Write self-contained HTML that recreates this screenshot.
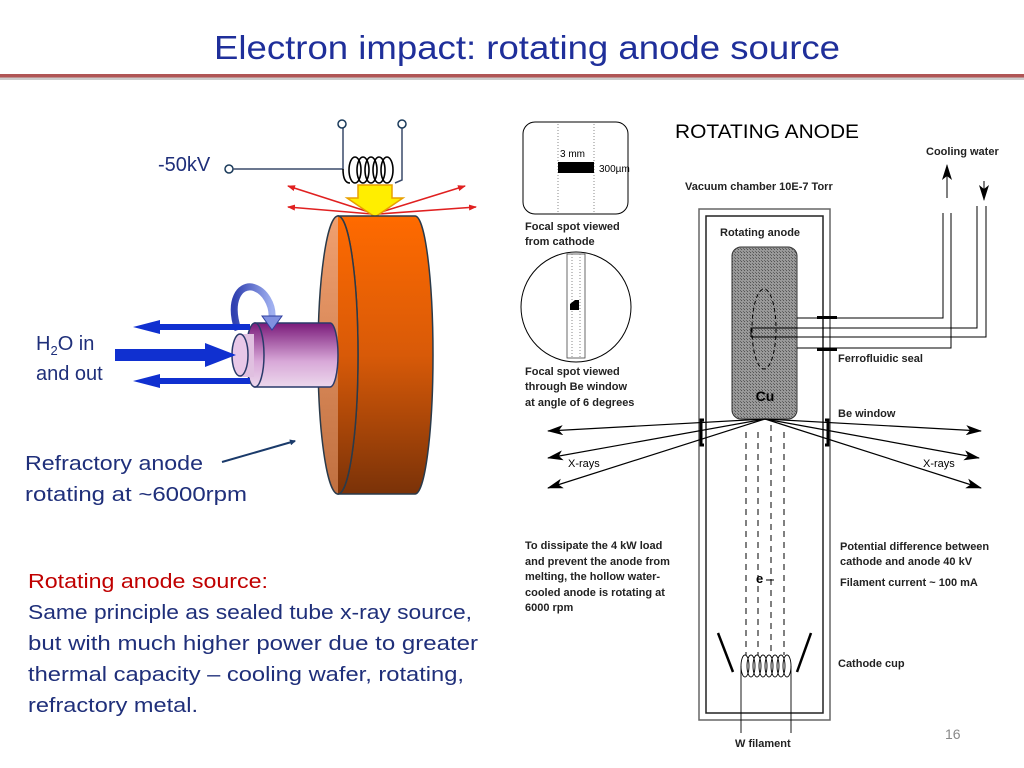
<!DOCTYPE html>
<html><head><meta charset="utf-8"><style>
html,body{margin:0;padding:0;background:#fff;}
svg{display:block;}
</style></head><body>
<svg width="1024" height="768" viewBox="0 0 1024 768" xmlns="http://www.w3.org/2000/svg" font-family="Liberation Sans, sans-serif">
<defs>
<linearGradient id="org" x1="0" y1="0" x2="0" y2="1"><stop offset="0" stop-color="#ff6a00"/><stop offset="0.5" stop-color="#d85a08"/><stop offset="1" stop-color="#7a3208"/></linearGradient>
<linearGradient id="face" x1="0" y1="0" x2="0" y2="1"><stop offset="0" stop-color="#f0a070"/><stop offset="1" stop-color="#c07040"/></linearGradient>
<linearGradient id="pur" x1="0" y1="0" x2="0" y2="1"><stop offset="0" stop-color="#7a1a7a"/><stop offset="0.6" stop-color="#d8a8d8"/><stop offset="1" stop-color="#ecd8ec"/></linearGradient>
<linearGradient id="rot" x1="0" y1="0" x2="1" y2="0"><stop offset="0" stop-color="#3040b0"/><stop offset="1" stop-color="#a0b0f0"/></linearGradient>
<marker id="ra" markerWidth="8" markerHeight="6" refX="7" refY="3" orient="auto" markerUnits="userSpaceOnUse"><path d="M0,0 L8,3 L0,6 z" fill="#e02020"/></marker>
<marker id="ka" markerWidth="16" markerHeight="10" refX="15" refY="5" orient="auto" markerUnits="userSpaceOnUse"><path d="M0,0 L16,5 L0,10 L4,5 z" fill="#000"/></marker>
<marker id="ba" markerWidth="6" markerHeight="6" refX="5" refY="3" orient="auto" markerUnits="userSpaceOnUse"><path d="M0,0 L6,3 L0,6 z" fill="#1a3a6a"/></marker>
<pattern id="hatch" width="3" height="3" patternUnits="userSpaceOnUse"><rect width="3" height="3" fill="#999"/><rect width="1" height="1" fill="#555"/><rect x="2" y="2" width="1" height="1" fill="#666"/></pattern>
</defs>

<!-- title -->
<text x="527" y="59" text-anchor="middle" font-size="33" fill="#1f2f9a" textLength="626" lengthAdjust="spacingAndGlyphs">Electron impact: rotating anode source</text>
<rect x="0" y="77" width="1024" height="3" fill="#ccc"/>
<rect x="0" y="74" width="1024" height="3.5" fill="#b05555"/>

<!-- LEFT DIAGRAM -->
<text x="158" y="171" font-size="20" fill="#1f2f7a">-50kV</text>
<circle cx="229" cy="169" r="4" fill="#fff" stroke="#1a3a5a" stroke-width="1.5"/>
<polyline points="233,169 343,169 343,128" fill="none" stroke="#3a4a6a" stroke-width="1.5"/>
<circle cx="342" cy="124" r="4" fill="#fff" stroke="#1a3a5a" stroke-width="1.5"/>
<polyline points="402,128 402,180 395,183" fill="none" stroke="#3a4a6a" stroke-width="1.5"/>
<circle cx="402" cy="124" r="4" fill="#fff" stroke="#1a3a5a" stroke-width="1.5"/>
<g fill="none" stroke="#000" stroke-width="1.6">
<ellipse cx="355" cy="170" rx="6" ry="13"/><ellipse cx="363" cy="170" rx="6" ry="13"/><ellipse cx="371" cy="170" rx="6" ry="13"/><ellipse cx="379" cy="170" rx="6" ry="13"/><ellipse cx="387" cy="170" rx="6" ry="13"/>
<path d="M343,169 Q343,183 350,183"/>
</g>
<!-- red arrows -->
<g stroke="#e02020" stroke-width="1.6" fill="none" marker-end="url(#ra)">
<line x1="372" y1="213" x2="288" y2="186"/><line x1="372" y1="214" x2="288" y2="207"/>
<line x1="378" y1="213" x2="465" y2="186"/><line x1="378" y1="214" x2="476" y2="207"/>
</g>
<path d="M358,185 L392,185 L392,198 L403,198 L375,217 L347,198 L358,198 z" fill="#ffee00" stroke="#e8a000" stroke-width="1.5"/>
<!-- disk -->
<path d="M338,216 L415,216 A18,139 0 0 1 415,494 L338,494 z" fill="url(#org)" stroke="#2a3a4a" stroke-width="1.5"/>
<ellipse cx="338" cy="355" rx="20" ry="139" fill="url(#face)" stroke="#2a3a4a" stroke-width="1.5"/>
<path d="M338,216 A20,139 0 0 1 338,494" fill="url(#org)" stroke="#2a3a4a" stroke-width="1.5"/>
<!-- shaft -->
<path d="M255,323 L330,323 A8,32 0 0 1 330,387 L255,387 z" fill="url(#pur)" stroke="#2a3a6a" stroke-width="1.5"/>
<ellipse cx="255" cy="355" rx="9" ry="32" fill="url(#pur)" stroke="#2a3a6a" stroke-width="1.5"/>
<path d="M240,334 L254,334 L254,377 L240,377 z" fill="#e0c0e0"/>
<ellipse cx="240" cy="355" rx="8" ry="21" fill="#e8c8e8" stroke="#2a3a6a" stroke-width="1.5"/>
<!-- rotation arrow -->
<path d="M238,330 C228,300 240,285 252,287 C265,290 273,305 272,318" fill="none" stroke="url(#rot)" stroke-width="7"/>
<path d="M262,316 L282,316 L272,330 z" fill="#8090e0" stroke="#3040a0" stroke-width="1"/>
<!-- blue arrows -->
<g fill="#1030d0">
<path d="M250,324 L160,324 L160,320 L133,327 L160,334 L160,330 L250,330 z"/>
<path d="M250,378 L160,378 L160,374 L133,381 L160,388 L160,384 L250,384 z"/>
<path d="M115,349 L205,349 L205,343 L236,355 L205,367 L205,361 L115,361 z"/>
</g>
<text x="36" y="350" font-size="20" fill="#1f2f7a">H<tspan font-size="13" dy="5">2</tspan><tspan dy="-5">O in</tspan></text>
<text x="36" y="380" font-size="20" fill="#1f2f7a">and out</text>
<text x="25" y="470" font-size="20" fill="#1f2f7a" textLength="178" lengthAdjust="spacingAndGlyphs">Refractory anode</text>
<text x="25" y="501" font-size="20" fill="#1f2f7a" textLength="222" lengthAdjust="spacingAndGlyphs">rotating at ~6000rpm</text>
<line x1="222" y1="462" x2="295" y2="441" stroke="#1a3a6a" stroke-width="2" marker-end="url(#ba)"/>

<text x="28" y="588" font-size="20" fill="#c00000" textLength="240" lengthAdjust="spacingAndGlyphs">Rotating anode source:</text>
<g font-size="20" fill="#1f2f7a">
<text x="28" y="619" textLength="444" lengthAdjust="spacingAndGlyphs">Same principle as sealed tube x-ray source,</text>
<text x="28" y="650" textLength="450" lengthAdjust="spacingAndGlyphs">but with much higher power due to greater</text>
<text x="28" y="681" textLength="436" lengthAdjust="spacingAndGlyphs">thermal capacity – cooling wafer, rotating,</text>
<text x="28" y="712" textLength="170" lengthAdjust="spacingAndGlyphs">refractory metal.</text>
</g>

<!-- RIGHT DIAGRAM -->
<text x="675" y="138" font-size="19" fill="#000" textLength="184" lengthAdjust="spacingAndGlyphs">ROTATING ANODE</text>
<rect x="523" y="122" width="105" height="92" rx="12" fill="#fff" stroke="#000" stroke-width="1"/>
<line x1="558" y1="124" x2="558" y2="212" stroke="#888" stroke-dasharray="1,2"/>
<line x1="594" y1="124" x2="594" y2="212" stroke="#888" stroke-dasharray="1,2"/>
<rect x="558" y="162" width="36" height="11" fill="#000"/>
<text x="560" y="157" font-size="10">3 mm</text>
<text x="599" y="172" font-size="10">300µm</text>
<g font-size="11" font-weight="bold" fill="#222">
<text x="525" y="230">Focal spot viewed</text>
<text x="525" y="245">from cathode</text>
<text x="525" y="375">Focal spot viewed</text>
<text x="525" y="390">through Be window</text>
<text x="525" y="406">at angle of 6 degrees</text>
<text x="685" y="190">Vacuum chamber 10E-7 Torr</text>
<text x="720" y="236">Rotating anode</text>
<text x="926" y="155">Cooling water</text>
<text x="838" y="362">Ferrofluidic seal</text>
<text x="838" y="417">Be window</text>
<text x="525" y="549">To dissipate the 4 kW load</text>
<text x="525" y="565">and prevent the anode from</text>
<text x="525" y="580">melting, the hollow water-</text>
<text x="525" y="596">cooled anode is rotating at</text>
<text x="525" y="611">6000 rpm</text>
<text x="840" y="550">Potential difference between</text>
<text x="840" y="565">cathode and anode 40 kV</text>
<text x="840" y="586">Filament current ~ 100 mA</text>
<text x="838" y="667">Cathode cup</text>
<text x="735" y="747">W filament</text>
</g>
<circle cx="576" cy="307" r="55" fill="#fff" stroke="#000" stroke-width="1"/>
<rect x="567" y="254" width="18" height="104" fill="#fff" stroke="#444" stroke-width="0.8"/>
<line x1="572" y1="254" x2="572" y2="358" stroke="#888" stroke-dasharray="1,2"/>
<line x1="580" y1="254" x2="580" y2="358" stroke="#888" stroke-dasharray="1,2"/>
<path d="M570,304 L575,300 L579,300 L579,310 L570,310 z" fill="#000"/>
<!-- chamber -->
<rect x="699" y="209" width="131" height="511" fill="none" stroke="#666" stroke-width="1.5"/>
<rect x="706" y="216" width="117" height="497" fill="none" stroke="#222" stroke-width="1.5"/>
<rect x="732" y="247" width="65" height="172" rx="9" fill="url(#hatch)" stroke="#333" stroke-width="1"/>
<ellipse cx="764" cy="329" rx="12" ry="40" fill="none" stroke="#000" stroke-dasharray="4,3"/>
<text x="765" y="401" font-size="14" font-weight="bold" text-anchor="middle">Cu</text>
<!-- pipes -->
<g stroke="#000" stroke-width="1" fill="none">
<polyline points="797,318 943,318 943,213"/>
<polyline points="797,348 951,348 951,213"/>
<polyline points="751,328 977,328 977,206"/>
<polyline points="751,337 986,337 986,206"/>
<line x1="751" y1="328" x2="751" y2="337"/>
</g>
<rect x="817" y="316" width="20" height="3" fill="#000"/>
<rect x="817" y="348" width="20" height="3" fill="#000"/>
<line x1="947" y1="198" x2="947" y2="165" stroke="#000" marker-end="url(#ka)"/>
<line x1="984" y1="181" x2="984" y2="200" stroke="#000" marker-end="url(#ka)"/>
<!-- Be windows -->
<path d="M704,420 L701,420 L701,445 L704,445" fill="none" stroke="#000" stroke-width="3"/>
<path d="M825,420 L828,420 L828,445 L825,445" fill="none" stroke="#000" stroke-width="3"/>
<!-- x-rays -->
<g stroke="#000" stroke-width="1.2" marker-end="url(#ka)">
<line x1="765" y1="419" x2="548" y2="431"/><line x1="765" y1="419" x2="548" y2="458"/><line x1="765" y1="419" x2="548" y2="488"/>
<line x1="765" y1="419" x2="981" y2="431"/><line x1="765" y1="419" x2="979" y2="458"/><line x1="765" y1="419" x2="981" y2="488"/>
</g>
<text x="568" y="467" font-size="11">X-rays</text>
<text x="923" y="467" font-size="11">X-rays</text>
<g stroke="#000" stroke-width="1" stroke-dasharray="6,5">
<line x1="746" y1="432" x2="746" y2="655"/><line x1="758" y1="432" x2="758" y2="655"/>
<line x1="771" y1="425" x2="771" y2="655"/><line x1="784" y1="432" x2="784" y2="655"/>
</g>
<text x="756" y="583" font-size="13" font-weight="bold">e</text>
<line x1="766" y1="580" x2="774" y2="580" stroke="#000"/>
<line x1="718" y1="633" x2="733" y2="672" stroke="#000" stroke-width="2.5"/>
<line x1="811" y1="633" x2="797" y2="672" stroke="#000" stroke-width="2.5"/>
<g fill="none" stroke="#000" stroke-width="0.9">
<ellipse cx="745" cy="666" rx="4" ry="11"/><ellipse cx="751" cy="666" rx="4" ry="11"/><ellipse cx="757" cy="666" rx="4" ry="11"/><ellipse cx="763" cy="666" rx="4" ry="11"/><ellipse cx="769" cy="666" rx="4" ry="11"/><ellipse cx="775" cy="666" rx="4" ry="11"/><ellipse cx="781" cy="666" rx="4" ry="11"/><ellipse cx="787" cy="666" rx="4" ry="11"/>
<line x1="741" y1="666" x2="741" y2="733"/><line x1="791" y1="666" x2="791" y2="733"/>
</g>
<text x="945" y="739" font-size="14" fill="#888">16</text>
</svg>
</body></html>
